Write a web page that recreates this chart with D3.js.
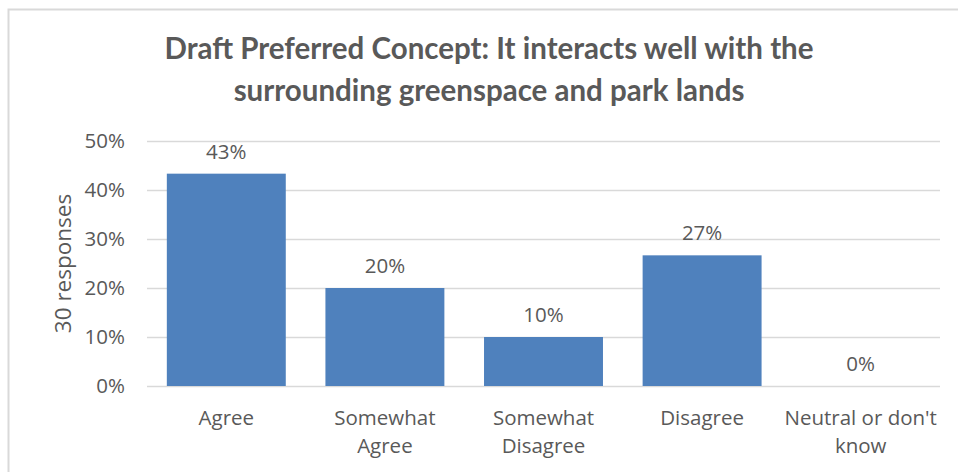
<!DOCTYPE html>
<html>
<head>
<meta charset="utf-8">
<script src="https://cdn.jsdelivr.net/npm/d3@7"></script>
<style>
  body { margin: 0; background: #fff; }
  text { font-family: "Open Sans", sans-serif; fill: #595959; }
</style>
</head>
<body>
<div id="chart"></div>
<script>
// chart data
const categories = ['Agree', 'Somewhat Agree', 'Somewhat Disagree', 'Disagree', "Neutral or don't know"];
const shares = [13 / 30, 6 / 30, 3 / 30, 8 / 30, 0];
const yTicks = [0, 0.1, 0.2, 0.3, 0.4, 0.5];
const titleLines = ['Draft Preferred Concept: It interacts well with the', 'surrounding greenspace and park lands'];
const yLabel = '30 responses';

const W = 958, H = 472;
const margin = { top: 141, right: 18, bottom: 86, left: 147 };
const font = '"Open Sans", sans-serif';

const svg = d3.select('#chart').append('svg')
  .attr('width', W)
  .attr('height', H);

// outer chart frame
svg.append('rect')
  .attr('x', 8.5).attr('y', 9.5)
  .attr('width', W).attr('height', H)
  .attr('fill', 'none')
  .attr('stroke', '#d9d9d9')
  .attr('stroke-width', 2);

// title
svg.append('text')
  .attr('text-anchor', 'middle')
  .style('font-family', 'Lato, sans-serif')
  .style('font-size', '29.5px')
  .style('font-weight', 'bold')
  .selectAll('tspan')
  .data(titleLines)
  .enter()
  .append('tspan')
  .attr('x', 489)
  .attr('y', (d, i) => 59 + i * 42)
  .text(d => d);

const x = d3.scaleBand()
  .domain(categories)
  .range([margin.left, W - margin.right])
  .paddingInner(0.25)
  .paddingOuter(0.125);

const y = d3.scaleLinear()
  .domain([0, 0.5])
  .range([H - margin.bottom, margin.top]);

// gridlines
svg.append('g')
  .selectAll('line')
  .data(yTicks)
  .enter()
  .append('line')
  .attr('x1', margin.left)
  .attr('x2', W - margin.right)
  .attr('y1', d => Math.round(y(d)) + 0.5)
  .attr('y2', d => Math.round(y(d)) + 0.5)
  .attr('stroke', '#d9d9d9')
  .attr('stroke-width', 1.3);

// y axis labels
const yAxis = svg.append('g')
  .attr('transform', `translate(${margin.left - 22},0)`)
  .call(d3.axisLeft(y).tickValues(yTicks).tickFormat(d3.format('.0%')).tickSize(0).tickPadding(0));
yAxis.select('.domain').remove();
yAxis.selectAll('text')
  .style('font-size', '20.5px')
  .style('font-family', font)
  .attr('fill', '#595959');

// y axis title
svg.append('text')
  .attr('transform', `translate(71,${(y(0) + y(0.5)) / 2}) rotate(-90)`)
  .attr('text-anchor', 'middle')
  .style('font-size', '22.5px')
  .text(yLabel);

// bars
svg.append('g')
  .selectAll('rect')
  .data(shares)
  .enter()
  .append('rect')
  .attr('x', (d, i) => x(categories[i]))
  .attr('y', d => y(d))
  .attr('width', x.bandwidth())
  .attr('height', d => y(0) - y(d))
  .attr('fill', '#4f81bd');

// data labels
svg.append('g')
  .selectAll('text')
  .data(shares)
  .enter()
  .append('text')
  .attr('x', (d, i) => x(categories[i]) + x.bandwidth() / 2)
  .attr('y', d => y(d) - 15)
  .attr('text-anchor', 'middle')
  .style('font-size', '20.5px')
  .text(d => d3.format('.0%')(d));

// category labels, wrapped
const xAxis = svg.append('g')
  .attr('transform', `translate(0,${y(0)})`)
  .call(d3.axisBottom(x).tickSize(0).tickPadding(0));
xAxis.select('.domain').remove();
xAxis.selectAll('text').remove();
xAxis.selectAll('.tick')
  .append('text')
  .attr('text-anchor', 'middle')
  .style('font-size', '20.5px')
  .style('font-family', font)
  .attr('fill', '#595959')
  .attr('y', 39)
  .text(d => d)
  .call(wrap, 160);

//Wraps SVG text
function wrap(text, width) {
  text.each(function() {
    let t = d3.select(this),
      words = t.text().split(/\s+/).reverse(),
      word,
      line = [],
      lineNumber = 0,
      y0 = t.attr('y'),
      tspan = t.text(null).append('tspan').attr('x', 0).attr('y', y0);
    while ((word = words.pop())) {
      line.push(word);
      tspan.text(line.join(' '));
      if (tspan.node().getComputedTextLength() > width && line.length > 1) {
        line.pop();
        tspan.text(line.join(' '));
        line = [word];
        tspan = t.append('tspan')
          .attr('x', 0)
          .attr('y', +y0 + ++lineNumber * 28)
          .text(word);
      }
    }
  });
}
</script>
</body>
</html>
